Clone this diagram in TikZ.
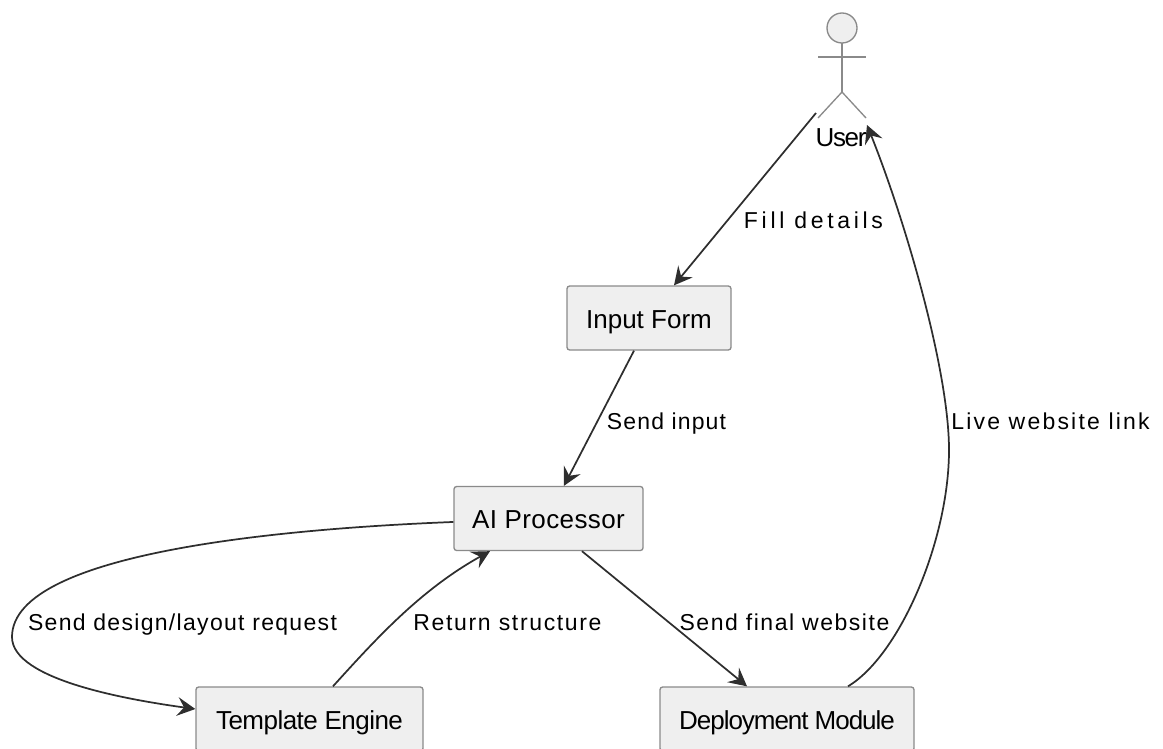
\documentclass[tikz,border=0pt]{standalone}
\usepackage{xcolor}
\usepackage{fontspec}
\setmainfont{Liberation Sans}
\usetikzlibrary{arrows.meta}
\definecolor{boxfill}{HTML}{EFEFEF}
\definecolor{boxline}{HTML}{8A8A8A}
\definecolor{edgeline}{HTML}{2E2E2E}
\newcommand{\spaced}[2]{\addfontfeature{LetterSpace=#1}#2}
\begin{document}
\begin{tikzpicture}[x=0.75pt,y=-0.75pt,
    block/.style={rectangle, draw=boxline, fill=boxfill, line width=1pt, rounded corners=2pt, inner sep=0pt, minimum height=48pt, text height=16pt, text depth=1pt, font=\fontsize{19.5}{23}\selectfont},
    flow/.style={draw=edgeline, line width=1.3pt, -{Stealth[length=13.5pt,width=14pt,inset=5pt]}},
    edgelabel/.style={anchor=base, inner sep=0pt, font=\fontsize{17.25}{21}\selectfont},
    actor/.style={draw=boxline, line width=1pt}]
    \useasboundingbox (0,0) rectangle (1163,749);
    \draw[actor, fill=boxfill] (842,28) circle (11.25pt);
    \draw[actor] (842,43) -- (842,92);
    \draw[actor] (818,57) -- (866,57);
    \draw[actor] (818,118) -- (842,92) -- (866,118);
    \node[anchor=base, inner sep=0pt, font=\fontsize{19.5}{23}\selectfont] (user) at (841,146) {\spaced{-5}{User}};
    \coordinate (userleft) at (816,113);
    \coordinate (userright) at (867,125);
    \node[block, minimum width=123pt] (input) at (649,318) {Input Form};
    \node[block, minimum width=141.75pt] (ai) at (548.5,518.5) {\spaced{1.5}{AI Processor}};
    \node[block, minimum width=170.25pt] (template) at (309.5,719) {\spaced{-2}{Template Engine}};
    \node[block, minimum width=190.5pt] (deploy) at (787,719) {\spaced{-4}{Deployment Module}};
    \draw[flow] (userleft) -- ([xshift=18.75pt]input.north);
    \draw[flow] ([xshift=-11.25pt]input.south) -- ([xshift=11.6pt]ai.north);
    \draw[flow] ([yshift=-2.6pt]ai.west) .. controls (300,528) and (12,550) .. (12,637) .. controls (12,680) and (130,700) .. ([yshift=7.5pt]template.west);
    \draw[flow] ([xshift=17.6pt]template.north) .. controls (375,640) and (420,590) .. ([xshift=-43.9pt]ai.south);
    \draw[flow] ([xshift=25.1pt]ai.south) -- ([xshift=-30pt]deploy.north);
    \draw[flow] ([xshift=45.75pt]deploy.north) .. controls (900,655) and (949,540) .. (949,450) .. controls (949,370) and (905,220) .. (userright);
    \node[edgelabel] (fill) at (813.5,228) {\spaced{16}{Fill details}};
    \node[edgelabel] (send) at (666.5,429) {\spaced{5}{Send input}};
    \node[edgelabel] (live) at (1050.5,429) {\spaced{9.6}{Live website link}};
    \node[edgelabel] (design) at (182.5,630) {\spaced{5.7}{Send design/layout request}};
    \node[edgelabel] (return) at (507.5,630) {\spaced{7.2}{Return structure}};
    \node[edgelabel] (final) at (784.5,630) {\spaced{6.7}{Send final website}};
\end{tikzpicture}
\end{document}
